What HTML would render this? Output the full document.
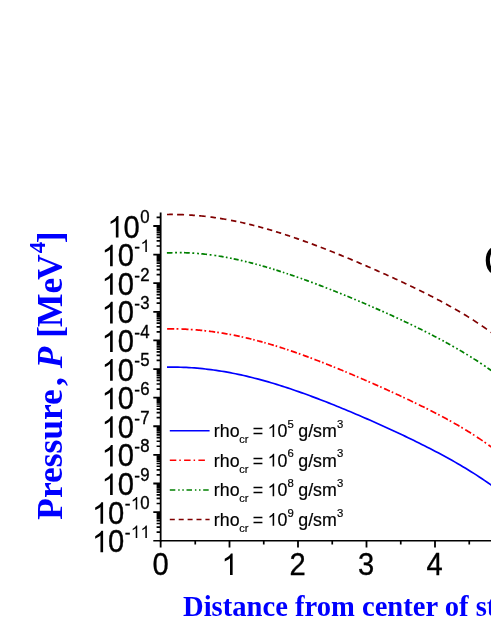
<!DOCTYPE html>
<html><head><meta charset="utf-8"><title>chart</title>
<style>
html,body{margin:0;padding:0;background:#fff;}
body{width:491px;height:635px;overflow:hidden;}
svg{display:block;will-change:transform;}
text{font-family:"Liberation Sans",sans-serif;}
.ser{font-family:"Liberation Serif",serif;font-weight:bold;fill:#0000ff;}
</style></head><body>
<svg width="491" height="635" viewBox="0 0 491 635">
<rect width="491" height="635" fill="#ffffff"/>
<g fill="none" stroke-width="1.7">
<path d="M167.00,214.50L168.46,214.48L169.93,214.47L171.39,214.47L172.86,214.47M177.10,214.53L178.49,214.56L179.88,214.59L181.28,214.63L182.67,214.68L184.06,214.74M189.10,214.99L190.55,215.08L192.00,215.18L193.45,215.28L194.90,215.39M199.10,215.75L200.41,215.87L201.72,216.00L203.03,216.13L204.34,216.27L205.65,216.42M210.40,216.99L211.79,217.18L213.18,217.36L214.58,217.56L215.97,217.76M220.00,218.37L221.28,218.58L222.55,218.79L223.83,219.00L225.10,219.22L226.38,219.45M231.00,220.31L232.33,220.57L233.67,220.83L235.00,221.10L236.34,221.37M240.20,222.20L241.50,222.48L242.79,222.77L244.09,223.07L245.39,223.37M249.15,224.26L250.44,224.58L251.74,224.90L253.04,225.23L254.33,225.56M258.09,226.54L259.39,226.89L260.69,227.24L261.98,227.60L263.28,227.96M267.04,229.02L268.34,229.40L269.63,229.78L270.93,230.16L272.23,230.55M275.98,231.69L277.28,232.09L278.58,232.49L279.88,232.90L281.17,233.31M284.93,234.52L286.23,234.95L287.52,235.37L288.82,235.81L290.12,236.24M293.88,237.51L295.17,237.96L296.47,238.41L297.77,238.86L299.06,239.32M302.82,240.65L304.12,241.11L305.42,241.58L306.71,242.05L308.01,242.53M311.77,243.91L313.07,244.39L314.36,244.88L315.66,245.37L316.96,245.86M320.71,247.29L322.01,247.79L323.31,248.29L324.61,248.79L325.90,249.30M329.66,250.77L330.96,251.29L332.25,251.80L333.55,252.32L334.85,252.84M338.61,254.35L339.90,254.88L341.20,255.41L342.50,255.94L343.79,256.47M347.55,258.01L348.85,258.55L350.15,259.09L351.44,259.63L352.74,260.18M356.50,261.76L357.80,262.31L359.09,262.86L360.39,263.41L361.69,263.96M365.44,265.57L366.74,266.13L368.04,266.69L369.34,267.26L370.63,267.82M374.39,269.46L375.69,270.03L376.98,270.60L378.28,271.18L379.58,271.75M383.34,273.42L384.63,274.01L385.93,274.59L387.23,275.17L388.52,275.76M392.28,277.46L393.58,278.06L394.88,278.65L396.17,279.25L397.47,279.84M401.23,281.59L402.53,282.19L403.82,282.80L405.12,283.41L406.42,284.02M410.17,285.81L411.47,286.43L412.77,287.05L414.07,287.67L415.36,288.30M419.12,290.14L420.42,290.77L421.71,291.41L423.01,292.06L424.31,292.70M428.07,294.59L429.36,295.25L430.66,295.91L431.96,296.58L433.25,297.25M437.01,299.20L438.31,299.89L439.61,300.57L440.90,301.26L442.20,301.96M445.96,304.00L447.26,304.71L448.55,305.42L449.85,306.15L451.15,306.87M454.90,309.00L456.20,309.75L457.50,310.50L458.80,311.26L460.09,312.02M463.85,314.26L465.15,315.05L466.44,315.84L467.74,316.64L469.04,317.45M472.80,319.82L474.09,320.65L475.39,321.49L476.69,322.34L477.98,323.20M481.74,325.72L483.04,326.61L484.34,327.51L485.63,328.41L486.93,329.33M490.69,332.03L491.84,332.88L493.00,333.73" stroke="#800000"/>
<path d="M166.90,252.97L168.31,252.90L169.72,252.83L171.13,252.78L172.54,252.74M175.11,252.68L176.05,252.67L176.99,252.66M179.81,252.65L180.75,252.66L181.69,252.67M184.00,252.72L185.43,252.76L186.86,252.81L188.29,252.86L189.73,252.93M192.33,253.07L193.28,253.13L194.24,253.20M197.10,253.41L198.05,253.49L199.01,253.57M201.35,253.78L202.77,253.93L204.20,254.08L205.62,254.23L207.04,254.40M209.63,254.72L210.58,254.84L211.53,254.97M214.37,255.37L215.32,255.51L216.27,255.65M218.60,256.02L219.85,256.22L221.09,256.43L222.34,256.64L223.58,256.86M225.85,257.27L226.68,257.42L227.51,257.58M230.00,258.06L230.83,258.23L231.66,258.39M233.70,258.81L234.93,259.07L236.16,259.34L237.39,259.61L238.62,259.88M240.85,260.39L241.67,260.57L242.49,260.77M244.95,261.35L245.77,261.55L246.59,261.75M248.60,262.25L249.75,262.54L250.91,262.84L252.06,263.14L253.22,263.44M255.32,263.99L256.09,264.20L256.86,264.41M259.17,265.04L259.94,265.26L260.71,265.47M262.60,266.01L263.74,266.34L264.88,266.66L266.02,267.00L267.15,267.33M269.22,267.95L269.98,268.18L270.74,268.41M273.02,269.10L273.78,269.33L274.54,269.57M276.40,270.15L277.88,270.62L279.36,271.09L280.84,271.57M282.86,272.22L284.34,272.71M286.55,273.44L288.03,273.94M289.85,274.55L291.03,274.95L292.20,275.35L293.38,275.75L294.55,276.16M296.69,276.91L297.47,277.18L298.26,277.46M300.61,278.29L301.39,278.57L302.18,278.85M304.10,279.54L305.30,279.98L306.51,280.41L307.71,280.85L308.92,281.29M311.11,282.10L311.91,282.40L312.71,282.70M315.12,283.60L315.93,283.90L316.73,284.21M318.70,284.95L319.90,285.41L321.09,285.87L322.29,286.33L323.49,286.79M325.66,287.63L326.46,287.94L327.25,288.25M329.65,289.19L330.44,289.50L331.24,289.82M333.20,290.59L334.37,291.06L335.54,291.52L336.71,291.99L337.89,292.46M340.02,293.32L340.80,293.63L341.58,293.95M343.92,294.90L344.70,295.22L345.48,295.54M347.40,296.33L348.58,296.81L349.76,297.30L350.94,297.79L352.12,298.28M354.26,299.17L355.05,299.50L355.84,299.83M358.20,300.83L358.98,301.16L359.77,301.49M361.70,302.31L362.86,302.80L364.01,303.29L365.16,303.79L366.32,304.28M368.42,305.19L369.19,305.52L369.96,305.85M372.27,306.86L373.04,307.19L373.81,307.53M375.70,308.35L376.84,308.86L377.99,309.36L379.13,309.86L380.27,310.37M382.35,311.29L383.11,311.63L383.87,311.97M386.16,313.00L386.92,313.34L387.68,313.68M389.55,314.53L390.73,315.06L391.90,315.60L393.08,316.14L394.25,316.67M396.39,317.66L397.17,318.02L397.96,318.38M400.31,319.48L401.09,319.84L401.88,320.21M403.80,321.11L404.96,321.66L406.13,322.21L407.29,322.76L408.45,323.32M410.57,324.33L411.34,324.70L412.12,325.08M414.45,326.20L415.22,326.58L416.00,326.96M417.90,327.89L419.05,328.46L420.21,329.03L421.37,329.60L422.52,330.18M424.62,331.23L425.39,331.62L426.16,332.01M428.47,333.18L429.24,333.58L430.01,333.97M431.90,334.94L433.04,335.53L434.18,336.13L435.32,336.72L436.45,337.32M438.52,338.41L439.28,338.82L440.04,339.22M442.32,340.44L443.08,340.85L443.84,341.27M445.70,342.28L446.86,342.92L448.01,343.55L449.16,344.19L450.32,344.84M452.42,346.02L453.19,346.46L453.96,346.89M456.27,348.22L457.04,348.66L457.81,349.11M459.70,350.21L460.84,350.88L461.98,351.55L463.12,352.23L464.25,352.91M466.32,354.17L467.08,354.63L467.84,355.09M470.12,356.50L470.88,356.97L471.64,357.44M473.50,358.62L474.65,359.35L475.81,360.09L476.97,360.83L478.12,361.58M480.22,362.96L480.99,363.47L481.76,363.98M484.07,365.53L484.84,366.05L485.61,366.58M487.50,367.88L488.65,368.68L489.80,369.48L490.95,370.29L492.10,371.11" stroke="#008000"/>
<path d="M167.10,328.78L168.53,328.78L169.96,328.78L171.39,328.79L172.82,328.81L174.25,328.83M176.54,328.88L177.47,328.90L178.40,328.92M181.40,329.02L182.82,329.08L184.24,329.14L185.66,329.21L187.08,329.29L188.50,329.37M190.77,329.51L191.69,329.57L192.62,329.63M195.60,329.86L196.93,329.97L198.26,330.09L199.59,330.21L200.92,330.33L202.25,330.46M204.38,330.69L205.24,330.78L206.11,330.88M208.90,331.21L210.16,331.36L211.42,331.52L212.68,331.69L213.94,331.86L215.20,332.04M217.22,332.33L218.04,332.45L218.85,332.57M221.50,332.99L222.72,333.19L223.94,333.39L225.16,333.60L226.38,333.81L227.60,334.03M229.55,334.39L230.34,334.53L231.14,334.68M233.70,335.18L234.90,335.42L236.10,335.66L237.30,335.91L238.50,336.16L239.70,336.42M241.62,336.84L242.40,337.01L243.18,337.19M245.70,337.77L247.12,338.10L248.55,338.44L249.97,338.78L251.40,339.14M253.22,339.59L254.71,339.97M257.10,340.59L258.46,340.96L259.83,341.32L261.19,341.69L262.55,342.07M264.29,342.56L265.71,342.96M268.00,343.62L269.45,344.04L270.90,344.47L272.35,344.90L273.80,345.34M275.66,345.91L276.41,346.14L277.16,346.38M279.60,347.14L281.01,347.59L282.43,348.05L283.84,348.51L285.25,348.97M287.06,349.57L288.53,350.06M290.90,350.86L292.39,351.37L293.89,351.89L295.38,352.41L296.88,352.93M298.79,353.61L299.56,353.88L300.34,354.16M302.85,355.06L304.30,355.59L305.75,356.12L307.20,356.65L308.65,357.19M310.51,357.88L311.26,358.16L312.01,358.45M314.45,359.37L315.90,359.92L317.35,360.48L318.80,361.03L320.25,361.60M322.11,362.32L322.86,362.61L323.61,362.91M326.05,363.87L327.50,364.44L328.95,365.02L330.40,365.60L331.85,366.18M333.71,366.93L334.46,367.24L335.21,367.54M337.65,368.54L339.10,369.13L340.55,369.73L342.00,370.33L343.45,370.93M345.31,371.70L346.06,372.01L346.81,372.33M349.25,373.35L350.70,373.96L352.15,374.57L353.60,375.18L355.05,375.80M356.91,376.59L357.66,376.91L358.41,377.24M360.85,378.28L362.30,378.91L363.75,379.53L365.20,380.16L366.65,380.79M368.51,381.60L369.26,381.93L370.01,382.26M372.45,383.33L373.90,383.97L375.35,384.61L376.80,385.25L378.25,385.89M380.11,386.72L380.86,387.06L381.61,387.39M384.05,388.49L385.50,389.14L386.95,389.79L388.40,390.45L389.85,391.11M391.71,391.95L392.46,392.30L393.21,392.64M395.65,393.76L397.10,394.42L398.55,395.09L400.00,395.77L401.45,396.44M403.31,397.31L404.06,397.66L404.81,398.01M407.25,399.16L408.70,399.85L410.15,400.53L411.60,401.23L413.05,401.92M414.91,402.81L415.66,403.18L416.41,403.54M418.85,404.72L420.30,405.43L421.75,406.14L423.20,406.86L424.65,407.58M426.51,408.50L427.26,408.88L428.01,409.26M430.45,410.49L431.90,411.23L433.35,411.97L434.80,412.72L436.25,413.47M438.11,414.43L438.86,414.83L439.61,415.23M442.05,416.52L443.50,417.29L444.95,418.07L446.40,418.86L447.85,419.65M449.71,420.67L450.46,421.09L451.21,421.51M453.65,422.87L455.10,423.70L456.55,424.53L458.00,425.36L459.45,426.21M461.31,427.30L462.06,427.74L462.81,428.19M465.25,429.66L466.70,430.54L468.15,431.43L469.60,432.33L471.05,433.24M472.91,434.42L473.66,434.90L474.41,435.38M476.85,436.97L478.30,437.93L479.75,438.90L481.20,439.88L482.65,440.87M484.51,442.15L485.26,442.68L486.01,443.21M488.45,444.95L489.59,445.77L490.73,446.60L491.86,447.44L493.00,448.29" stroke="#ff0000"/>
<path d="M167.00,367.16 L169.74,367.13 L172.48,367.12 L175.22,367.14 L177.96,367.18 L180.70,367.25 L183.44,367.34 L186.18,367.46 L188.92,367.60 L191.66,367.77 L194.39,367.96 L197.13,368.18 L199.87,368.42 L202.61,368.69 L205.35,368.99 L208.09,369.30 L210.83,369.64 L213.57,370.01 L216.31,370.40 L219.05,370.81 L221.79,371.25 L224.53,371.71 L227.27,372.19 L230.01,372.69 L232.75,373.22 L235.49,373.77 L238.23,374.34 L240.97,374.93 L243.71,375.54 L246.45,376.18 L249.18,376.83 L251.92,377.50 L254.66,378.20 L257.40,378.91 L260.14,379.64 L262.88,380.39 L265.62,381.16 L268.36,381.94 L271.10,382.74 L273.84,383.56 L276.58,384.40 L279.32,385.25 L282.06,386.12 L284.80,387.00 L287.54,387.90 L290.28,388.81 L293.02,389.74 L295.76,390.68 L298.50,391.63 L301.24,392.60 L303.97,393.57 L306.71,394.57 L309.45,395.57 L312.19,396.58 L314.93,397.61 L317.67,398.65 L320.41,399.70 L323.15,400.75 L325.89,401.82 L328.63,402.90 L331.37,403.99 L334.11,405.08 L336.85,406.19 L339.59,407.30 L342.33,408.43 L345.07,409.56 L347.81,410.70 L350.55,411.84 L353.29,413.00 L356.03,414.16 L358.76,415.33 L361.50,416.51 L364.24,417.70 L366.98,418.89 L369.72,420.09 L372.46,421.29 L375.20,422.51 L377.94,423.73 L380.68,424.96 L383.42,426.19 L386.16,427.44 L388.90,428.69 L391.64,429.95 L394.38,431.22 L397.12,432.49 L399.86,433.78 L402.60,435.07 L405.34,436.37 L408.08,437.68 L410.82,439.00 L413.55,440.33 L416.29,441.67 L419.03,443.02 L421.77,444.39 L424.51,445.76 L427.25,447.15 L429.99,448.55 L432.73,449.97 L435.47,451.40 L438.21,452.84 L440.95,454.30 L443.69,455.78 L446.43,457.27 L449.17,458.79 L451.91,460.32 L454.65,461.87 L457.39,463.44 L460.13,465.04 L462.87,466.66 L465.61,468.30 L468.34,469.97 L471.08,471.66 L473.82,473.39 L476.56,475.14 L479.30,476.92 L482.04,478.74 L484.78,480.59 L487.52,482.47 L490.26,484.39 L493.00,486.35" stroke="#0000ff"/>
</g>
<g stroke="#000" fill="none">
<line x1="160.65" y1="212.5" x2="160.65" y2="541.5" stroke-width="1.8"/>
<line x1="153.3" y1="540.7" x2="491" y2="540.7" stroke-width="1.6"/>
<path d="M153.3,226.00H160.65M153.3,254.61H160.65M153.3,283.22H160.65M153.3,311.83H160.65M153.3,340.44H160.65M153.3,369.05H160.65M153.3,397.66H160.65M153.3,426.27H160.65M153.3,454.88H160.65M153.3,483.49H160.65M153.3,512.10H160.65" stroke-width="1.8"/>
<path d="M156.6,217.39H160.65M156.6,246.00H160.65M156.6,240.96H160.65M156.6,237.39H160.65M156.6,234.61H160.65M156.6,232.35H160.65M156.6,230.43H160.65M156.6,228.77H160.65M156.6,227.31H160.65M156.6,274.61H160.65M156.6,269.57H160.65M156.6,266.00H160.65M156.6,263.22H160.65M156.6,260.96H160.65M156.6,259.04H160.65M156.6,257.38H160.65M156.6,255.92H160.65M156.6,303.22H160.65M156.6,298.18H160.65M156.6,294.61H160.65M156.6,291.83H160.65M156.6,289.57H160.65M156.6,287.65H160.65M156.6,285.99H160.65M156.6,284.53H160.65M156.6,331.83H160.65M156.6,326.79H160.65M156.6,323.22H160.65M156.6,320.44H160.65M156.6,318.18H160.65M156.6,316.26H160.65M156.6,314.60H160.65M156.6,313.14H160.65M156.6,360.44H160.65M156.6,355.40H160.65M156.6,351.83H160.65M156.6,349.05H160.65M156.6,346.79H160.65M156.6,344.87H160.65M156.6,343.21H160.65M156.6,341.75H160.65M156.6,389.05H160.65M156.6,384.01H160.65M156.6,380.44H160.65M156.6,377.66H160.65M156.6,375.40H160.65M156.6,373.48H160.65M156.6,371.82H160.65M156.6,370.36H160.65M156.6,417.66H160.65M156.6,412.62H160.65M156.6,409.05H160.65M156.6,406.27H160.65M156.6,404.01H160.65M156.6,402.09H160.65M156.6,400.43H160.65M156.6,398.97H160.65M156.6,446.27H160.65M156.6,441.23H160.65M156.6,437.66H160.65M156.6,434.88H160.65M156.6,432.62H160.65M156.6,430.70H160.65M156.6,429.04H160.65M156.6,427.58H160.65M156.6,474.88H160.65M156.6,469.84H160.65M156.6,466.27H160.65M156.6,463.49H160.65M156.6,461.23H160.65M156.6,459.31H160.65M156.6,457.65H160.65M156.6,456.19H160.65M156.6,503.49H160.65M156.6,498.45H160.65M156.6,494.88H160.65M156.6,492.10H160.65M156.6,489.84H160.65M156.6,487.92H160.65M156.6,486.26H160.65M156.6,484.80H160.65M156.6,532.10H160.65M156.6,527.06H160.65M156.6,523.49H160.65M156.6,520.71H160.65M156.6,518.45H160.65M156.6,516.53H160.65M156.6,514.87H160.65M156.6,513.41H160.65" stroke-width="1.7"/>
<path d="M160.65,540.7V547.5M229.50,540.7V547.5M298.00,540.7V547.5M366.50,540.7V547.5M435.00,540.7V547.5M503.50,540.7V547.5" stroke-width="1.8"/>
<path d="M195.25,540.7V544.4M263.75,540.7V544.4M332.25,540.7V544.4M400.75,540.7V544.4M469.25,540.7V544.4M537.75,540.7V544.4" stroke-width="1.7"/>
</g>
<g fill="#000">
<path d="M763,0H583V1147Q518,1085 412,1023Q307,961 223,930V1104Q374,1175 487,1276Q600,1377 647,1472H763Z" transform="translate(107.31,237.60) scale(0.01465,-0.01465)" fill="#000"/><text transform="translate(123.49,237.60) scale(0.945,1)" font-size="30.84" stroke="#000" stroke-width="0.35">0</text><text transform="translate(140.14,223.30) scale(0.945,1)" font-size="17.78" stroke="#000" stroke-width="0.35">0</text>
<path d="M763,0H583V1147Q518,1085 412,1023Q307,961 223,930V1104Q374,1175 487,1276Q600,1377 647,1472H763Z" transform="translate(101.54,266.21) scale(0.01465,-0.01465)" fill="#000"/><text transform="translate(117.73,266.21) scale(0.945,1)" font-size="30.84" stroke="#000" stroke-width="0.35">0</text><text x="134.32" y="251.91" font-size="17.3" stroke="#000" stroke-width="0.35">-</text><path d="M763,0H583V1147Q518,1085 412,1023Q307,961 223,930V1104Q374,1175 487,1276Q600,1377 647,1472H763Z" transform="translate(140.42,251.91) scale(0.00845,-0.00845)" fill="#000"/>
<path d="M763,0H583V1147Q518,1085 412,1023Q307,961 223,930V1104Q374,1175 487,1276Q600,1377 647,1472H763Z" transform="translate(101.54,294.82) scale(0.01465,-0.01465)" fill="#000"/><text transform="translate(117.73,294.82) scale(0.945,1)" font-size="30.84" stroke="#000" stroke-width="0.35">0</text><text x="134.32" y="280.52" font-size="17.3" stroke="#000" stroke-width="0.35">-</text><text transform="translate(140.14,280.52) scale(0.945,1)" font-size="17.78" stroke="#000" stroke-width="0.35">2</text>
<path d="M763,0H583V1147Q518,1085 412,1023Q307,961 223,930V1104Q374,1175 487,1276Q600,1377 647,1472H763Z" transform="translate(101.54,323.43) scale(0.01465,-0.01465)" fill="#000"/><text transform="translate(117.73,323.43) scale(0.945,1)" font-size="30.84" stroke="#000" stroke-width="0.35">0</text><text x="134.32" y="309.13" font-size="17.3" stroke="#000" stroke-width="0.35">-</text><text transform="translate(140.14,309.13) scale(0.945,1)" font-size="17.78" stroke="#000" stroke-width="0.35">3</text>
<path d="M763,0H583V1147Q518,1085 412,1023Q307,961 223,930V1104Q374,1175 487,1276Q600,1377 647,1472H763Z" transform="translate(101.54,352.04) scale(0.01465,-0.01465)" fill="#000"/><text transform="translate(117.73,352.04) scale(0.945,1)" font-size="30.84" stroke="#000" stroke-width="0.35">0</text><text x="134.32" y="337.74" font-size="17.3" stroke="#000" stroke-width="0.35">-</text><text transform="translate(140.14,337.74) scale(0.945,1)" font-size="17.78" stroke="#000" stroke-width="0.35">4</text>
<path d="M763,0H583V1147Q518,1085 412,1023Q307,961 223,930V1104Q374,1175 487,1276Q600,1377 647,1472H763Z" transform="translate(101.54,380.65) scale(0.01465,-0.01465)" fill="#000"/><text transform="translate(117.73,380.65) scale(0.945,1)" font-size="30.84" stroke="#000" stroke-width="0.35">0</text><text x="134.32" y="366.35" font-size="17.3" stroke="#000" stroke-width="0.35">-</text><text transform="translate(140.14,366.35) scale(0.945,1)" font-size="17.78" stroke="#000" stroke-width="0.35">5</text>
<path d="M763,0H583V1147Q518,1085 412,1023Q307,961 223,930V1104Q374,1175 487,1276Q600,1377 647,1472H763Z" transform="translate(101.54,409.26) scale(0.01465,-0.01465)" fill="#000"/><text transform="translate(117.73,409.26) scale(0.945,1)" font-size="30.84" stroke="#000" stroke-width="0.35">0</text><text x="134.32" y="394.96" font-size="17.3" stroke="#000" stroke-width="0.35">-</text><text transform="translate(140.14,394.96) scale(0.945,1)" font-size="17.78" stroke="#000" stroke-width="0.35">6</text>
<path d="M763,0H583V1147Q518,1085 412,1023Q307,961 223,930V1104Q374,1175 487,1276Q600,1377 647,1472H763Z" transform="translate(101.54,437.87) scale(0.01465,-0.01465)" fill="#000"/><text transform="translate(117.73,437.87) scale(0.945,1)" font-size="30.84" stroke="#000" stroke-width="0.35">0</text><text x="134.32" y="423.57" font-size="17.3" stroke="#000" stroke-width="0.35">-</text><text transform="translate(140.14,423.57) scale(0.945,1)" font-size="17.78" stroke="#000" stroke-width="0.35">7</text>
<path d="M763,0H583V1147Q518,1085 412,1023Q307,961 223,930V1104Q374,1175 487,1276Q600,1377 647,1472H763Z" transform="translate(101.54,466.48) scale(0.01465,-0.01465)" fill="#000"/><text transform="translate(117.73,466.48) scale(0.945,1)" font-size="30.84" stroke="#000" stroke-width="0.35">0</text><text x="134.32" y="452.18" font-size="17.3" stroke="#000" stroke-width="0.35">-</text><text transform="translate(140.14,452.18) scale(0.945,1)" font-size="17.78" stroke="#000" stroke-width="0.35">8</text>
<path d="M763,0H583V1147Q518,1085 412,1023Q307,961 223,930V1104Q374,1175 487,1276Q600,1377 647,1472H763Z" transform="translate(101.54,495.09) scale(0.01465,-0.01465)" fill="#000"/><text transform="translate(117.73,495.09) scale(0.945,1)" font-size="30.84" stroke="#000" stroke-width="0.35">0</text><text x="134.32" y="480.79" font-size="17.3" stroke="#000" stroke-width="0.35">-</text><text transform="translate(140.14,480.79) scale(0.945,1)" font-size="17.78" stroke="#000" stroke-width="0.35">9</text>
<path d="M763,0H583V1147Q518,1085 412,1023Q307,961 223,930V1104Q374,1175 487,1276Q600,1377 647,1472H763Z" transform="translate(91.92,523.70) scale(0.01465,-0.01465)" fill="#000"/><text transform="translate(108.11,523.70) scale(0.945,1)" font-size="30.84" stroke="#000" stroke-width="0.35">0</text><text x="124.69" y="509.40" font-size="17.3" stroke="#000" stroke-width="0.35">-</text><path d="M763,0H583V1147Q518,1085 412,1023Q307,961 223,930V1104Q374,1175 487,1276Q600,1377 647,1472H763Z" transform="translate(130.80,509.40) scale(0.00845,-0.00845)" fill="#000"/><text transform="translate(140.14,509.40) scale(0.945,1)" font-size="17.78" stroke="#000" stroke-width="0.35">0</text>
<path d="M763,0H583V1147Q518,1085 412,1023Q307,961 223,930V1104Q374,1175 487,1276Q600,1377 647,1472H763Z" transform="translate(91.92,552.31) scale(0.01465,-0.01465)" fill="#000"/><text transform="translate(108.11,552.31) scale(0.945,1)" font-size="30.84" stroke="#000" stroke-width="0.35">0</text><text x="124.69" y="538.01" font-size="17.3" stroke="#000" stroke-width="0.35">-</text><path d="M763,0H583V1147Q518,1085 412,1023Q307,961 223,930V1104Q374,1175 487,1276Q600,1377 647,1472H763Z" transform="translate(130.80,538.01) scale(0.00845,-0.00845)" fill="#000"/><path d="M763,0H583V1147Q518,1085 412,1023Q307,961 223,930V1104Q374,1175 487,1276Q600,1377 647,1472H763Z" transform="translate(140.42,538.01) scale(0.00845,-0.00845)" fill="#000"/>
</g>
<g fill="#000">
<text transform="translate(152.46,575.00) scale(0.945,1)" font-size="30.84" stroke="#000" stroke-width="0.35">0</text>
<path d="M763,0H583V1147Q518,1085 412,1023Q307,961 223,930V1104Q374,1175 487,1276Q600,1377 647,1472H763Z" transform="translate(221.46,575.00) scale(0.01465,-0.01465)" fill="#000"/>
<text transform="translate(289.46,575.00) scale(0.945,1)" font-size="30.84" stroke="#000" stroke-width="0.35">2</text>
<text transform="translate(357.96,575.00) scale(0.945,1)" font-size="30.84" stroke="#000" stroke-width="0.35">3</text>
<text transform="translate(426.46,575.00) scale(0.945,1)" font-size="30.84" stroke="#000" stroke-width="0.35">4</text>
</g>
<line x1="169.8" y1="430.7" x2="209.6" y2="430.7" stroke="#0000ff" stroke-width="1.5"/>
<text y="437.0" font-size="17.8" fill="#000" stroke="#000" stroke-width="0.2"><tspan x="213.87">rho</tspan><tspan x="239.23" y="442.9" font-size="11">cr</tspan><tspan x="252.63" y="437.0">=</tspan><tspan x="277.46" y="437.0">0</tspan><tspan x="287.43" y="427.8" font-size="11.3">5</tspan><tspan x="298.25" y="437.0">g/sm</tspan><tspan x="336.95" y="427.7" font-size="11.3">3</tspan></text>
<path d="M763,0H583V1147Q518,1085 412,1023Q307,961 223,930V1104Q374,1175 487,1276Q600,1377 647,1472H763Z" transform="translate(267.56,437.00) scale(0.00869,-0.00869)" fill="#000"/><line x1="169.8" y1="460.3" x2="206.0" y2="460.3" stroke="#ff0000" stroke-width="1.5" stroke-dasharray="6.5 3 1.5 3.3"/>
<text y="466.6" font-size="17.8" fill="#000" stroke="#000" stroke-width="0.2"><tspan x="213.87">rho</tspan><tspan x="239.23" y="472.5" font-size="11">cr</tspan><tspan x="252.63" y="466.6">=</tspan><tspan x="277.46" y="466.6">0</tspan><tspan x="287.43" y="457.4" font-size="11.3">6</tspan><tspan x="298.25" y="466.6">g/sm</tspan><tspan x="336.95" y="457.3" font-size="11.3">3</tspan></text>
<path d="M763,0H583V1147Q518,1085 412,1023Q307,961 223,930V1104Q374,1175 487,1276Q600,1377 647,1472H763Z" transform="translate(267.56,466.60) scale(0.00869,-0.00869)" fill="#000"/><line x1="169.8" y1="489.9" x2="209.6" y2="489.9" stroke="#008000" stroke-width="1.5" stroke-dasharray="5.5 2.9 1.5 2.6 1.5 2.7"/>
<text y="496.2" font-size="17.8" fill="#000" stroke="#000" stroke-width="0.2"><tspan x="213.87">rho</tspan><tspan x="239.23" y="502.1" font-size="11">cr</tspan><tspan x="252.63" y="496.2">=</tspan><tspan x="277.46" y="496.2">0</tspan><tspan x="287.43" y="487.0" font-size="11.3">8</tspan><tspan x="298.25" y="496.2">g/sm</tspan><tspan x="336.95" y="486.9" font-size="11.3">3</tspan></text>
<path d="M763,0H583V1147Q518,1085 412,1023Q307,961 223,930V1104Q374,1175 487,1276Q600,1377 647,1472H763Z" transform="translate(267.56,496.20) scale(0.00869,-0.00869)" fill="#000"/><line x1="169.8" y1="519.5" x2="209.6" y2="519.5" stroke="#800000" stroke-width="1.5" stroke-dasharray="5 3.9"/>
<text y="525.8" font-size="17.8" fill="#000" stroke="#000" stroke-width="0.2"><tspan x="213.87">rho</tspan><tspan x="239.23" y="531.7" font-size="11">cr</tspan><tspan x="252.63" y="525.8">=</tspan><tspan x="277.46" y="525.8">0</tspan><tspan x="287.43" y="516.6" font-size="11.3">9</tspan><tspan x="298.25" y="525.8">g/sm</tspan><tspan x="336.95" y="516.5" font-size="11.3">3</tspan></text>
<path d="M763,0H583V1147Q518,1085 412,1023Q307,961 223,930V1104Q374,1175 487,1276Q600,1377 647,1472H763Z" transform="translate(267.56,525.80) scale(0.00869,-0.00869)" fill="#000"/><text class="ser" x="183.0" y="616.1" font-size="28.6">Distance from center of star</text>
<text class="ser" transform="translate(62.0,519.7) rotate(-90)" font-size="35.4">Pressure<tspan dx="3.3">,</tspan> <tspan font-style="italic">P</tspan> [<tspan dx="-1.0">Me</tspan><tspan dx="-2.2">V</tspan><tspan font-size="23" dy="-17.3" dx="1.3">4</tspan><tspan dy="17.3" dx="-1.6">]</tspan></text>
<text x="483.4" y="275.5" font-size="44" fill="#000">C</text>
</svg>
</body></html>
